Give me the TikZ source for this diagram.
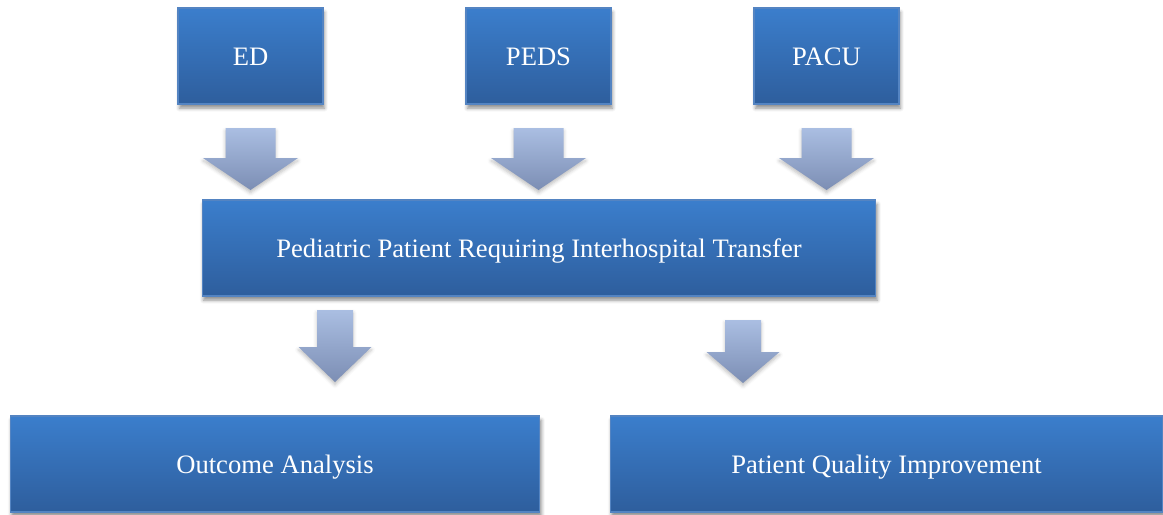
\documentclass[tikz,border=0pt]{standalone}
\usepackage{fontspec}
\setmainfont{Liberation Serif}
\usetikzlibrary{shadows.blur}

\definecolor{boxtop}{RGB}{59,126,204}
\definecolor{boxbottom}{RGB}{46,94,157}
\definecolor{boxline}{RGB}{84,132,194}
\definecolor{arrowtop}{RGB}{170,190,226}
\definecolor{arrowbottom}{RGB}{124,142,180}

\begin{document}
\begin{tikzpicture}[x = 0.02cm, y = 0.02cm,
    box/.style = {shape = rectangle, draw = boxline, line width = 0.6pt,
                  top color = boxtop, bottom color = boxbottom,
                  minimum height = 1.92cm, inner sep = 0pt, text = white,
                  font = \fontsize{15.15}{18}\selectfont,
                  text height = 10.5pt, text depth = 0pt,
                  blur shadow = {shadow xshift = 0.8pt, shadow yshift = -2.4pt,
                                 shadow blur radius = 2pt, shadow opacity = 45}},
    arrowfill/.style = {top color = arrowtop, bottom color = arrowbottom,
                        blur shadow = {shadow xshift = 0pt, shadow yshift = -1.6pt,
                                       shadow blur radius = 2pt, shadow opacity = 25}}]
  \useasboundingbox (0, 0) rectangle (1163, -514);

  \node [box, minimum width = 2.9cm] (ed)   at (250.5, -56) {ED};
  \node [box, minimum width = 2.9cm] (peds) at (538.5, -56) {PEDS};
  \node [box, minimum width = 2.9cm] (pacu) at (826.5, -56) {PACU};

  \shade [arrowfill] (225.5, -128) -- ++(50, 0) -- ++(0, -30) -- ++(22.5, 0)
         -- ++(-47.5, -32) -- ++(-47.5, 32) -- ++(22.5, 0) -- cycle;
  \shade [arrowfill] (513.5, -128) -- ++(50, 0) -- ++(0, -30) -- ++(22.5, 0)
         -- ++(-47.5, -32) -- ++(-47.5, 32) -- ++(22.5, 0) -- cycle;
  \shade [arrowfill] (801.5, -128) -- ++(50, 0) -- ++(0, -30) -- ++(22.5, 0)
         -- ++(-47.5, -32) -- ++(-47.5, 32) -- ++(22.5, 0) -- cycle;

  \node [box, minimum width = 13.48cm] (transfer) at (539, -248)
        {Pediatric Patient Requiring Interhospital Transfer};

  \shade [arrowfill] (317, -310) -- ++(36, 0) -- ++(0, -37) -- ++(18.5, 0)
         -- ++(-36.5, -35) -- ++(-36.5, 35) -- ++(18.5, 0) -- cycle;
  \shade [arrowfill] (725, -320) -- ++(36, 0) -- ++(0, -32) -- ++(18.5, 0)
         -- ++(-36.5, -31) -- ++(-36.5, 31) -- ++(18.5, 0) -- cycle;

  \node [box, minimum width = 10.6cm]  (outcome) at (275, -464) {Outcome Analysis};
  \node [box, minimum width = 11.06cm] (quality) at (886.5, -464) {Patient Quality Improvement};
\end{tikzpicture}
\end{document}
